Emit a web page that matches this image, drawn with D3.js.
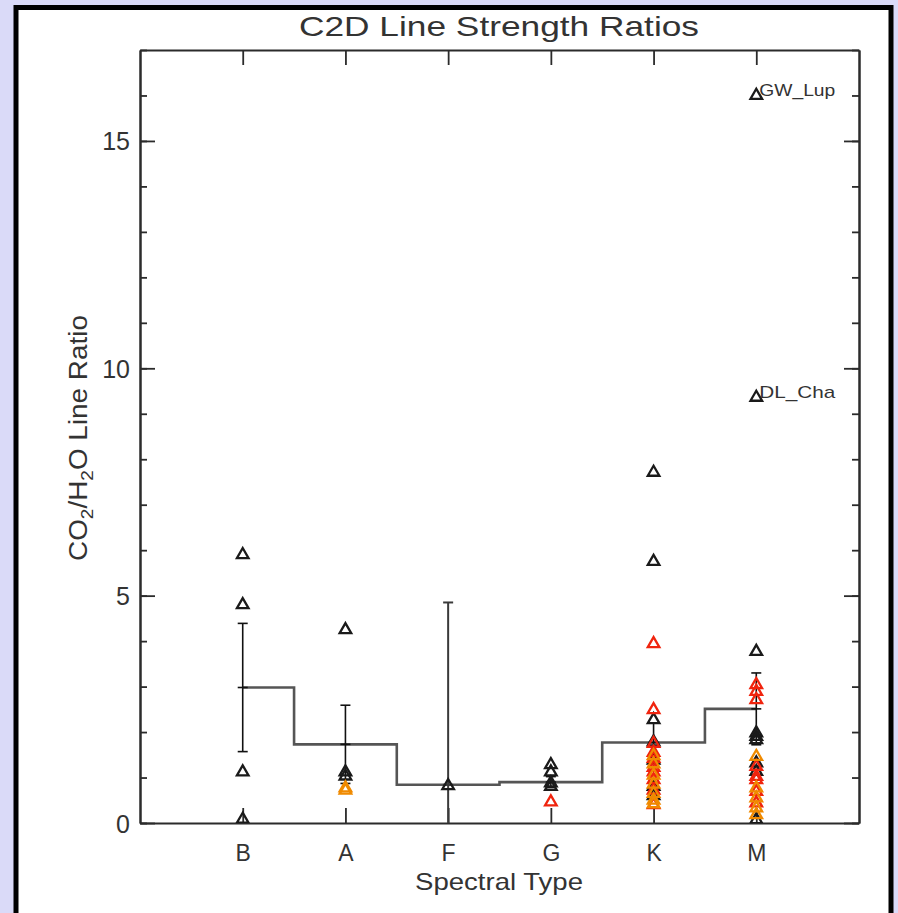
<!DOCTYPE html>
<html>
<head>
<meta charset="utf-8">
<script src="https://cdn.jsdelivr.net/npm/d3@7"></script>
<style>
  html, body { margin: 0; padding: 0; background: #dadaf8; }
  svg { display: block; }
  text { font-family: "Liberation Sans", Arial, sans-serif; fill: #333; }
</style>
</head>
<body>
<svg id="chart" width="898" height="913"></svg>
<script>
// Spectral type bins along the x axis
const spectralTypes = ["B", "A", "F", "G", "K", "M"];

// Mean CO2/H2O ratio per spectral type and its error
const meanRatio = [2.98, 1.73, 0.84, 0.90, 1.77, 2.51];
const errRatio  = [1.41, 0.86, 4.01, 0.12, 0.43, 0.79];

// Individual sources: [spectral type, ratio]
const blackSources = [
  ["B", 5.90], ["B", 4.80], ["B", 1.12], ["B", 0.08],
  ["A", 4.25], ["A", 1.12], ["A", 1.03],
  ["F", 0.82],
  ["G", 1.28], ["G", 1.12], ["G", 0.88], ["G", 0.80],
  ["K", 7.71], ["K", 5.75], ["K", 2.27], ["K", 1.78], ["K", 1.38], ["K", 0.80], ["K", 0.60],
  ["M", 16.00], ["M", 9.36], ["M", 3.77], ["M", 1.98], ["M", 1.90], ["M", 1.83], ["M", 1.32], ["M", 1.13], ["M", 0.07]
];
const redSources = [
  ["G", 0.46],
  ["K", 3.94], ["K", 2.49], ["K", 1.75], ["K", 1.55], ["K", 1.42], ["K", 1.22], ["K", 1.12], ["K", 0.95], ["K", 0.72], ["K", 0.40],
  ["M", 3.04], ["M", 2.89], ["M", 2.71], ["M", 1.24], ["M", 1.02], ["M", 0.95], ["M", 0.69], ["M", 0.44]
];
const orangeSources = [
  ["A", 0.77], ["A", 0.72],
  ["K", 1.48], ["K", 1.30], ["K", 1.05], ["K", 0.85], ["K", 0.65], ["K", 0.50], ["K", 0.42],
  ["M", 1.46], ["M", 0.77], ["M", 0.55], ["M", 0.33], ["M", 0.18]
];

// Named outliers
const namedSources = [
  { type: "M", ratio: 16.00, name: "GW_Lup" },
  { type: "M", ratio: 9.36,  name: "DL_Cha" }
];

const yMajorTicks = [0, 5, 10, 15];
const yMinorTicks = d3.range(0, 18, 1);

const svg = d3.select("#chart");
const W = 898, H = 913;
const plot = { left: 140, right: 859, top: 50, bottom: 823 };

// page frame
svg.append("rect").attr("x", 0).attr("y", 0).attr("width", W).attr("height", H).attr("fill", "#dadaf8");
svg.append("rect")
  .attr("x", 16).attr("y", 7.5).attr("width", 875).attr("height", 908)
  .attr("fill", "#ffffff").attr("stroke", "#000").attr("stroke-width", 5);

const x = d3.scaleLinear().domain([0, 7]).range([plot.left, plot.right]);
const y = d3.scaleLinear().domain([0, 17]).range([plot.bottom, plot.top]);
const xOf = t => x(spectralTypes.indexOf(t) + 1);

const axisColor = "#2b2b2b";
function styleAxis(g) {
  g.select(".domain").attr("stroke", axisColor).attr("stroke-width", 2);
  g.selectAll(".tick line").attr("stroke", axisColor).attr("stroke-width", 1.8);
  g.selectAll(".tick text").attr("fill", "#333")
    .style("font-family", '"Liberation Sans", Arial, sans-serif');
}

// minor y ticks (left and right)
svg.append("g").attr("transform", `translate(${plot.left},0)`)
  .call(d3.axisLeft(y).tickValues(yMinorTicks).tickSizeInner(-7).tickSizeOuter(0).tickFormat(""))
  .call(styleAxis);
svg.append("g").attr("transform", `translate(${plot.right},0)`)
  .call(d3.axisRight(y).tickValues(yMinorTicks).tickSizeInner(-7).tickSizeOuter(0).tickFormat(""))
  .call(styleAxis);

// major y ticks
svg.append("g").attr("transform", `translate(${plot.left},0)`)
  .call(d3.axisLeft(y).tickValues(yMajorTicks).tickSizeInner(-15).tickSizeOuter(0).tickPadding(10).tickFormat(d3.format("d")))
  .call(styleAxis)
  .call(g => g.selectAll(".tick text").attr("font-size", 25).attr("dy", "0.36em"));
svg.append("g").attr("transform", `translate(${plot.right},0)`)
  .call(d3.axisRight(y).tickValues(yMajorTicks).tickSizeInner(-15).tickSizeOuter(0).tickFormat(""))
  .call(styleAxis);

// x axes (bottom labelled, top plain)
const xTickVals = spectralTypes.map((t, i) => i + 1);
svg.append("g").attr("transform", `translate(0,${plot.bottom})`)
  .call(d3.axisBottom(x).tickValues(xTickVals).tickSizeInner(-15).tickSizeOuter(0).tickPadding(22)
    .tickFormat(d => spectralTypes[d - 1]))
  .call(styleAxis)
  .call(g => g.selectAll(".tick text").attr("font-size", 23));
svg.append("g").attr("transform", `translate(0,${plot.top})`)
  .call(d3.axisTop(x).tickValues(xTickVals).tickSizeInner(-15).tickSizeOuter(0).tickFormat(""))
  .call(styleAxis);

// titles
svg.append("text").attr("x", 499).attr("y", 36).attr("text-anchor", "middle")
  .attr("font-size", 28).attr("textLength", 400).attr("lengthAdjust", "spacingAndGlyphs")
  .text("C2D Line Strength Ratios");
svg.append("text").attr("x", 499).attr("y", 890).attr("text-anchor", "middle")
  .attr("font-size", 24).attr("textLength", 168).attr("lengthAdjust", "spacingAndGlyphs")
  .text("Spectral Type");
const yTitle = svg.append("text")
  .attr("transform", "translate(87,438) rotate(-90)")
  .attr("text-anchor", "middle").attr("font-size", 25)
  .attr("textLength", 246).attr("lengthAdjust", "spacingAndGlyphs");
yTitle.append("tspan").text("CO");
yTitle.append("tspan").attr("font-size", 17).attr("dy", 6).text("2");
yTitle.append("tspan").attr("dy", -6).text("/H");
yTitle.append("tspan").attr("font-size", 17).attr("dy", 6).text("2");
yTitle.append("tspan").attr("dy", -6).text("O Line Ratio");

// clip to the plot box
svg.append("clipPath").attr("id", "plotClip").append("rect")
  .attr("x", plot.left).attr("y", plot.top)
  .attr("width", plot.right - plot.left).attr("height", plot.bottom - plot.top);
const inner = svg.append("g").attr("clip-path", "url(#plotClip)");

// histogram-style mean line
const meanPts = meanRatio.map((m, i) => [x(i + 1), y(m)]);
inner.append("path")
  .attr("d", d3.line().curve(d3.curveStep)(meanPts))
  .attr("fill", "none").attr("stroke", "#555").attr("stroke-width", 2.6);

// error bars
const capHalf = 5;
spectralTypes.forEach((t, i) => {
  const cx = x(i + 1);
  const lo = meanRatio[i] - errRatio[i], hi = meanRatio[i] + errRatio[i];
  const col = t === "F" ? "#3a3a3a" : "#111";
  const g = inner.append("g").attr("stroke", col).attr("stroke-width", t === "F" ? 2 : 1.6);
  g.append("line").attr("x1", cx).attr("x2", cx).attr("y1", y(lo)).attr("y2", y(hi));
  g.append("line").attr("x1", cx - capHalf).attr("x2", cx + capHalf).attr("y1", y(hi)).attr("y2", y(hi));
  if (lo > 0) g.append("line").attr("x1", cx - capHalf).attr("x2", cx + capHalf).attr("y1", y(lo)).attr("y2", y(lo));
  g.append("line").attr("x1", cx - capHalf).attr("x2", cx + capHalf).attr("y1", y(meanRatio[i])).attr("y2", y(meanRatio[i]));
});

// open triangle markers
const tri = d3.symbol().type(d3.symbolTriangle).size(58);
function drawSources(data, color) {
  inner.append("g").selectAll("path").data(data).join("path")
    .attr("d", tri)
    .attr("transform", d => `translate(${xOf(d[0])},${y(d[1])})`)
    .attr("fill", "none").attr("stroke", color).attr("stroke-width", 2.3)
    .attr("stroke-linejoin", "miter");
}
drawSources(blackSources, "#1a1a1a");
drawSources(redSources, "#f0240e");
drawSources(orangeSources, "#f08a00");

// names of the outliers
svg.append("g").selectAll("text").data(namedSources).join("text")
  .attr("x", d => xOf(d.type) + 3)
  .attr("y", d => y(d.ratio) + 1)
  .attr("font-size", 17).attr("textLength", 76).attr("lengthAdjust", "spacingAndGlyphs")
  .text(d => d.name);
</script>
</body>
</html>
